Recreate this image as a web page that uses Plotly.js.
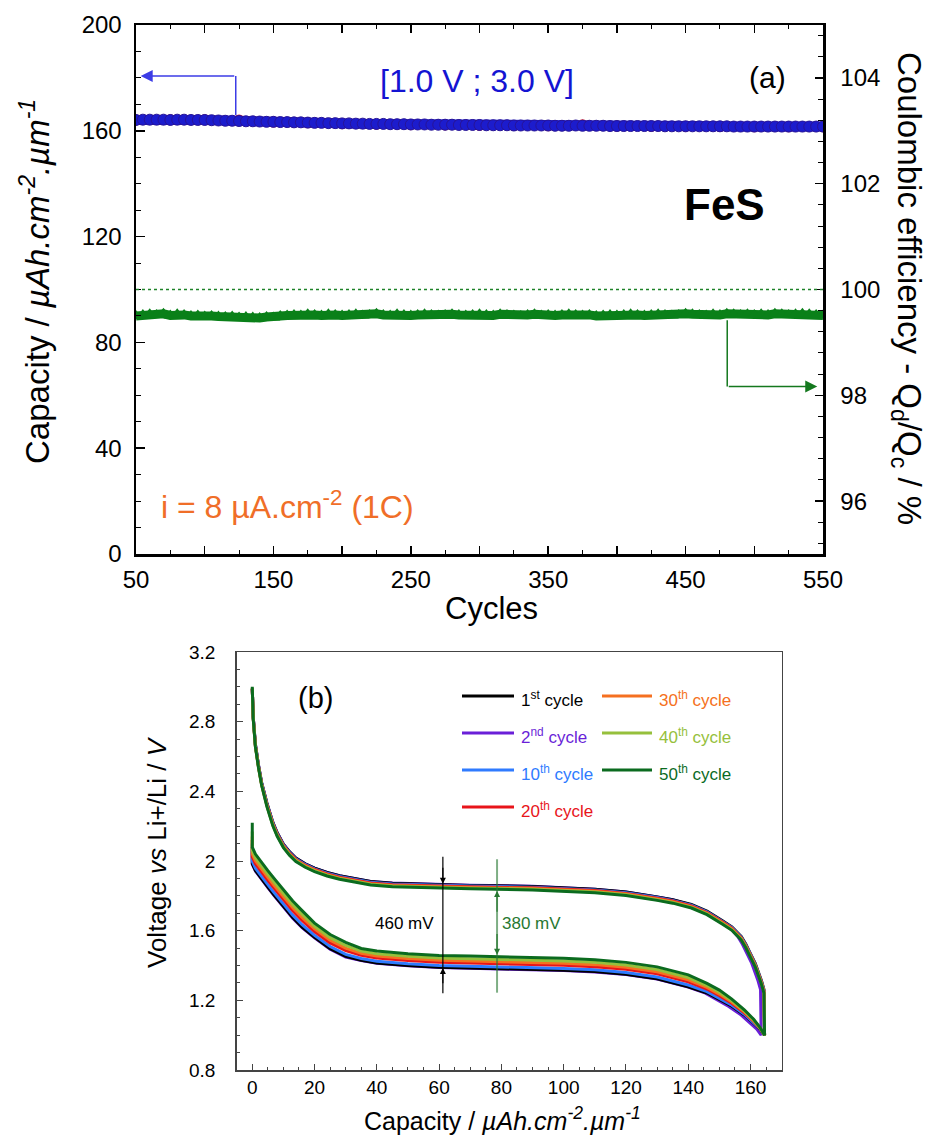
<!DOCTYPE html>
<html><head><meta charset="utf-8">
<script src="https://cdn.plot.ly/plotly-3.0.1.min.js"></script>
<style>html,body{margin:0;padding:0;background:#fff;} #chart{width:929px;height:1138px;}</style>
</head><body><div id="chart"></div>
<script>
// ================= Panel (a): cycling data =================
const cycleNo = [50,55,60,65,70,75,80,85,90,95,100,105,110,115,120,125,130,135,140,145,150,155,160,165,170,175,180,185,190,195,200,205,210,215,220,225,230,235,240,245,250,255,260,265,270,275,280,285,290,295,300,305,310,315,320,325,330,335,340,345,350,355,360,365,370,375,380,385,390,395,400,405,410,415,420,425,430,435,440,445,450,455,460,465,470,475,480,485,490,495,500,505,510,515,520,525,530,535,540,545,550];
const capacityQd = [164.1,164.2,164.2,164.2,164.2,164.1,164.2,164.2,164.1,164.1,164.1,
 164.0,163.9,163.8,163.8,163.7,163.6,163.6,163.5,163.4,163.4,
 163.3,163.3,163.2,163.2,163.1,163.0,163.0,162.9,162.9,162.8,
 162.8,162.7,162.7,162.6,162.6,162.6,162.5,162.5,162.5,162.4,
 162.4,162.4,162.3,162.3,162.3,162.3,162.2,162.2,162.2,162.2,
 162.1,162.1,162.1,162.1,162.0,162.0,162.0,162.0,162.0,162.0,
 161.9,161.9,161.9,162.0,161.9,161.9,161.9,161.9,161.8,161.8,
 161.8,161.8,161.8,161.8,161.8,161.8,161.7,161.7,161.7,161.7,
 161.7,161.7,161.7,161.7,161.7,161.7,161.6,161.6,161.6,161.6,
 161.6,161.6,161.6,161.6,161.6,161.6,161.6,161.6,161.6,161.6];
const cycleNoQc = [50,75,100,125,150,175,200,225,250,275,300,325,350,375,400,425,450,475,500,525,550];
const capacityQc = [164.1,164.2,164.2,164.1,163.3,163.0,162.7,162.5,162.3,162.2,162.1,162.0,161.9,162.3,161.8,161.7,161.7,161.6,161.5,161.5,161.5];
const coulombicEff = [99.50,99.52,99.53,99.52,99.54,99.51,99.53,99.52,99.50,99.51,99.49,
 99.50,99.49,99.48,99.49,99.47,99.48,99.47,99.46,99.48,99.47,
 99.50,99.51,99.52,99.51,99.53,99.52,99.51,99.53,99.52,99.51,
 99.52,99.53,99.51,99.52,99.54,99.52,99.51,99.53,99.52,99.51,
 99.52,99.53,99.52,99.51,99.52,99.53,99.52,99.51,99.52,99.53,
 99.52,99.51,99.53,99.52,99.51,99.50,99.52,99.53,99.51,99.52,
 99.51,99.52,99.53,99.52,99.51,99.52,99.50,99.51,99.52,99.51,
 99.52,99.53,99.52,99.51,99.52,99.53,99.52,99.51,99.52,99.54,
 99.53,99.52,99.51,99.53,99.52,99.54,99.53,99.52,99.53,99.52,
 99.53,99.52,99.54,99.53,99.52,99.53,99.54,99.53,99.52,99.51];
const xTickVals_a = [50,100,150,200,250,300,350,400,450,500,550];
const xTickText_a = ['50','','150','','250','','350','','450','','550'];
const ceTickVals = [96,98,100,102,104];

// ================= Panel (b): voltage profiles =================
// discharge capacity points (lower branch) and charge points (upper branch, right to left)
const capDis = [0,0,1,3,5,7,10,13,16,20,25,30,35,40,50,60,70,80,90,100,110,120,130,140,146,150,154,158,161,163,164.5];
const capCha = [164.5,164.5,164.3,163.5,162.7,161.5,160,158.5,157,154,151,146,141,135,130,125,120,110,90,70,55,45,38,33,28,24,20,17,14,12,10,8,6.6,4.7,3,2,1,0.3,0];
const capDis2nd = [0,0,1,3,5,7,10,13,16,20,25,30,35,40,50,60,70,80,90,100,110,120,130,140,145.5,149.3,153,157,160,162,163.4];
const capCha2nd = [163.4,163.4,163.2,162.4,161.6,160.4,158.9,157.4,155.9,153,150,145.3,140.5,135,130,125,120,110,90,70,55,45,38,33,28,24,20,17,14,12,10,8,6.6,4.7,3,2,1,0.3,0];

const vDis1st  = [2.08,1.985,1.945,1.895,1.85,1.805,1.74,1.675,1.62,1.562,1.497,1.452,1.43,1.415,1.40,1.39,1.386,1.383,1.379,1.373,1.365,1.35,1.324,1.278,1.242,1.204,1.166,1.116,1.07,1.035,1.00];
const vDis2nd  = [2.06,1.982,1.942,1.892,1.847,1.802,1.737,1.672,1.617,1.559,1.494,1.449,1.428,1.413,1.398,1.388,1.384,1.381,1.377,1.371,1.363,1.348,1.322,1.276,1.241,1.203,1.165,1.115,1.07,1.035,1.00];
const vDis10th = [2.10,1.999,1.959,1.909,1.864,1.819,1.754,1.689,1.634,1.574,1.509,1.464,1.44,1.425,1.41,1.40,1.396,1.393,1.389,1.383,1.375,1.36,1.334,1.288,1.25,1.212,1.172,1.12,1.073,1.037,1.00];
const vDis20th = [2.12,2.024,1.984,1.934,1.889,1.844,1.779,1.714,1.659,1.595,1.53,1.485,1.458,1.443,1.428,1.418,1.414,1.411,1.407,1.401,1.393,1.378,1.352,1.306,1.265,1.227,1.183,1.128,1.079,1.04,1.00];
const vDis30th = [2.14,2.041,2.001,1.951,1.906,1.861,1.796,1.731,1.676,1.61,1.545,1.50,1.47,1.455,1.44,1.43,1.426,1.423,1.419,1.413,1.405,1.39,1.364,1.318,1.274,1.236,1.19,1.134,1.082,1.041,1.00];
const vDis40th = [2.17,2.059,2.019,1.969,1.924,1.879,1.814,1.749,1.694,1.625,1.56,1.515,1.483,1.468,1.453,1.443,1.439,1.436,1.432,1.426,1.418,1.403,1.377,1.331,1.285,1.247,1.198,1.139,1.086,1.043,1.00];
const vDis50th = [2.22,2.08,2.04,1.99,1.945,1.90,1.835,1.77,1.715,1.643,1.578,1.533,1.498,1.483,1.468,1.458,1.454,1.451,1.447,1.441,1.433,1.418,1.392,1.346,1.297,1.259,1.207,1.146,1.091,1.045,1.00];

const vCha1st  = [1.00,1.23,1.262,1.312,1.352,1.412,1.467,1.522,1.567,1.622,1.657,1.712,1.75,1.778,1.794,1.809,1.822,1.838,1.854,1.86,1.865,1.872,1.882,1.897,1.915,1.934,1.959,1.984,2.017,2.052,2.097,2.162,2.222,2.332,2.45,2.55,2.67,2.83,2.99];
const vCha2nd  = [1.00,1.20,1.262,1.312,1.352,1.412,1.467,1.522,1.567,1.622,1.657,1.712,1.75,1.778,1.794,1.809,1.822,1.838,1.855,1.861,1.866,1.873,1.883,1.897,1.915,1.934,1.959,1.984,2.017,2.052,2.097,2.162,2.222,2.332,2.45,2.55,2.67,2.83,2.99];
const vCha10th = [1.00,1.22,1.258,1.308,1.348,1.408,1.463,1.518,1.563,1.618,1.653,1.708,1.746,1.774,1.79,1.805,1.818,1.834,1.85,1.856,1.861,1.868,1.878,1.893,1.911,1.93,1.955,1.98,2.013,2.048,2.093,2.158,2.218,2.328,2.445,2.545,2.665,2.825,2.99];
const vCha20th = [1.00,1.22,1.254,1.304,1.344,1.404,1.459,1.514,1.559,1.614,1.649,1.704,1.742,1.77,1.786,1.801,1.814,1.83,1.846,1.852,1.857,1.864,1.874,1.889,1.907,1.926,1.951,1.976,2.009,2.044,2.089,2.154,2.214,2.324,2.442,2.542,2.662,2.822,2.99];
const vCha30th = [1.00,1.22,1.25,1.30,1.34,1.40,1.455,1.51,1.555,1.61,1.645,1.70,1.738,1.766,1.782,1.797,1.81,1.826,1.842,1.848,1.853,1.86,1.87,1.885,1.903,1.922,1.947,1.972,2.005,2.04,2.085,2.15,2.21,2.32,2.44,2.54,2.66,2.82,2.99];
const vCha40th = [1.00,1.23,1.246,1.296,1.336,1.396,1.451,1.506,1.551,1.606,1.641,1.696,1.734,1.762,1.778,1.793,1.806,1.822,1.838,1.844,1.849,1.856,1.866,1.881,1.899,1.918,1.943,1.968,2.001,2.036,2.081,2.146,2.206,2.316,2.438,2.538,2.658,2.818,2.995];
const vCha50th = [1.00,1.24,1.242,1.292,1.332,1.392,1.447,1.502,1.547,1.602,1.637,1.692,1.73,1.758,1.774,1.789,1.802,1.818,1.834,1.84,1.845,1.852,1.862,1.877,1.895,1.914,1.939,1.964,1.997,2.032,2.077,2.142,2.202,2.312,2.435,2.535,2.655,2.815,3.0];

const cycleLabels = ['1<sup>st</sup> cycle','2<sup>nd</sup> cycle','10<sup>th</sup> cycle','20<sup>th</sup> cycle','30<sup>th</sup> cycle','40<sup>th</sup> cycle','50<sup>th</sup> cycle'];
const cycleColors = ['#000000','#6a1fd8','#2f7bff','#e8141a','#f57020','#96c03c','#0b6b1f'];

// ================= helpers (layout only) =================
const W = 929, H = 1138;
const px = v => v / W;
const py = v => 1 - v / H;
const FONT = 'Liberation Sans, Arial, sans-serif';

const BLUE = 'rgb(28,28,205)';
const GREEN = 'rgb(10,128,25)';

const traces = [];
// Panel (a)
traces.push({x: cycleNo, y: coulombicEff, xaxis:'x', yaxis:'y2', mode:'lines+markers',
  line:{color:GREEN, width:9}, marker:{symbol:'triangle-up', size:12, color:GREEN}, showlegend:false});
traces.push({x: cycleNoQc, y: capacityQc, xaxis:'x', yaxis:'y', mode:'markers',
  marker:{symbol:'circle', size:11, color:'rgb(200,30,50)'}, showlegend:false});
traces.push({x: cycleNo, y: capacityQd, xaxis:'x', yaxis:'y', mode:'lines+markers',
  line:{color:BLUE, width:10}, marker:{symbol:'circle', size:11, color:BLUE, line:{color:'rgb(40,20,150)', width:1}}, showlegend:false});

// Panel (b)
const dis = [vDis1st, vDis2nd, vDis10th, vDis20th, vDis30th, vDis40th, vDis50th];
const cha = [vCha1st, vCha2nd, vCha10th, vCha20th, vCha30th, vCha40th, vCha50th];
const xd = [capDis, capDis2nd, capDis, capDis, capDis, capDis, capDis];
const xc = [capCha, capCha2nd, capCha, capCha, capCha, capCha, capCha];
const order = [1,0,2,3,4,5,6];
order.forEach(i => {
  traces.push({x: xd[i].concat(xc[i]), y: dis[i].concat(cha[i]), xaxis:'x2', yaxis:'y3', mode:'lines',
    line:{color: cycleColors[i], width: 3}, showlegend:false});
});

const annotations = [];
const shapes = [];
// Panel (a) texts
annotations.push({text:'[1.0 V ; 3.0 V]', x:px(477.5), y:py(81), xref:'paper', yref:'paper', showarrow:false,
  font:{family:FONT, size:32, color:'rgb(20,20,210)'}, xanchor:'center', yanchor:'middle'});
annotations.push({text:'(a)', x:px(767), y:py(77), xref:'paper', yref:'paper', showarrow:false,
  font:{family:FONT, size:30, color:'#000'}, xanchor:'center', yanchor:'middle'});
annotations.push({text:'<b>FeS</b>', x:px(724), y:py(205), xref:'paper', yref:'paper', showarrow:false,
  font:{family:FONT, size:44, color:'#000'}, xanchor:'center', yanchor:'middle'});
annotations.push({text:'i = 8 µA.cm<sup>-2</sup> (1C)', x:px(287), y:py(505), xref:'paper', yref:'paper', showarrow:false,
  font:{family:FONT, size:32, color:'rgb(240,110,40)'}, xanchor:'center', yanchor:'middle'});
// axis titles (a)
annotations.push({text:'Capacity / <i>µAh.cm<sup>-2</sup>.µm<sup>-1</sup></i>', x:px(35), y:py(282), xref:'paper', yref:'paper',
  showarrow:false, textangle:-90, font:{family:FONT, size:33, color:'#000'}, xanchor:'center', yanchor:'middle'});
annotations.push({text:'Coulombic efficiency - Q<sub>d</sub>/Q<sub>c</sub> / %', x:px(907), y:py(288), xref:'paper', yref:'paper',
  showarrow:false, textangle:90, font:{family:FONT, size:33, color:'#000'}, xanchor:'center', yanchor:'middle'});
annotations.push({text:'Cycles', x:px(491), y:py(608), xref:'paper', yref:'paper', showarrow:false,
  font:{family:FONT, size:31, color:'#000'}, xanchor:'center', yanchor:'middle'});
// pointer arrows (a)
shapes.push({type:'line', xref:'x', yref:'y', x0:122.6, x1:122.6, y0:166, y1:180.7, line:{color:'rgb(60,60,230)', width:1.5}});
annotations.push({text:'', x:53.4, y:180.7, ax:122.6, ay:180.7, xref:'x', yref:'y', axref:'x', ayref:'y',
  showarrow:true, arrowhead:2, arrowsize:1.6, arrowwidth:1.5, arrowcolor:'rgb(60,60,230)'});
shapes.push({type:'line', xref:'x', yref:'y2', x0:480.3, x1:480.3, y0:99.42, y1:98.165, line:{color:'rgb(20,120,30)', width:1.5}});
annotations.push({text:'', x:545.8, y:98.165, ax:480.3, ay:98.165, xref:'x', yref:'y2', axref:'x', ayref:'y2',
  showarrow:true, arrowhead:2, arrowsize:1.6, arrowwidth:1.5, arrowcolor:'rgb(20,120,30)'});
shapes.push({type:'line', xref:'x', yref:'y2', x0:50, x1:550, y0:100, y1:100, line:{color:'rgb(30,130,40)', width:1.5, dash:'dot'}});

// Panel (b) texts
annotations.push({text:'(b)', x:px(315), y:py(698), xref:'paper', yref:'paper', showarrow:false,
  font:{family:FONT, size:29, color:'#000'}, xanchor:'center', yanchor:'middle'});
annotations.push({text:'Voltage <i>vs</i> Li+/Li / <i>V</i>', x:px(157), y:py(852), xref:'paper', yref:'paper',
  showarrow:false, textangle:-90, font:{family:FONT, size:26, color:'#000'}, xanchor:'center', yanchor:'middle'});
annotations.push({text:'Capacity / <i>µAh.cm<sup>-2</sup>.µm<sup>-1</sup></i>', x:px(502), y:py(1119), xref:'paper', yref:'paper',
  showarrow:false, font:{family:FONT, size:25, color:'#000'}, xanchor:'center', yanchor:'middle'});
// legend (b), two columns
const legCol = [[0,1,2,3],[4,5,6]];
const legRowsY = [696, 733, 770, 807];
const legColX = [[462,514,519],[602,652,657]];
legCol.forEach((items, c) => {
  items.forEach((idx, r) => {
    shapes.push({type:'line', xref:'paper', yref:'paper', x0:px(legColX[c][0]), x1:px(legColX[c][1]),
      y0:py(legRowsY[r]), y1:py(legRowsY[r]), line:{color:cycleColors[idx], width:3}});
    annotations.push({text:cycleLabels[idx], x:px(legColX[c][2]), y:py(legRowsY[r]+3), xref:'paper', yref:'paper',
      showarrow:false, xanchor:'left', yanchor:'middle', font:{family:FONT, size:17, color:cycleColors[idx]}});
  });
});
// overpotential markers
shapes.push({type:'line', xref:'x2', yref:'y3', x0:61.2, x1:61.2, y0:1.24, y1:2.025, line:{color:'#000', width:1.2}});
annotations.push({text:'', x:61.2, y:1.87, ax:61.2, ay:1.97, xref:'x2', yref:'y3', axref:'x2', ayref:'y3',
  showarrow:true, arrowhead:2, arrowsize:1, arrowwidth:1.2, arrowcolor:'#000'});
annotations.push({text:'', x:61.2, y:1.385, ax:61.2, ay:1.29, xref:'x2', yref:'y3', axref:'x2', ayref:'y3',
  showarrow:true, arrowhead:2, arrowsize:1, arrowwidth:1.2, arrowcolor:'#000'});
shapes.push({type:'line', xref:'x2', yref:'y3', x0:78.6, x1:78.6, y0:1.244, y1:2.01, line:{color:'rgba(40,120,50,0.6)', width:2}});
annotations.push({text:'', x:78.6, y:1.828, ax:78.6, ay:1.70, xref:'x2', yref:'y3', axref:'x2', ayref:'y3',
  showarrow:true, arrowhead:2, arrowsize:1, arrowwidth:1.2, arrowcolor:'rgb(40,120,50)'});
annotations.push({text:'', x:78.6, y:1.462, ax:78.6, ay:1.59, xref:'x2', yref:'y3', axref:'x2', ayref:'y3',
  showarrow:true, arrowhead:2, arrowsize:1, arrowwidth:1.2, arrowcolor:'rgb(40,120,50)'});
annotations.push({text:'460 mV', x:px(436), y:py(923), xref:'paper', yref:'paper', showarrow:false,
  xanchor:'right', yanchor:'middle', font:{family:FONT, size:17, color:'#000'}});
annotations.push({text:'380 mV', x:px(500), y:py(923), xref:'paper', yref:'paper', showarrow:false,
  xanchor:'left', yanchor:'middle', font:{family:FONT, size:17, color:'rgb(40,120,50)'}});

const layout = {
  width: W, height: H,
  margin:{l:0, r:0, t:0, b:0},
  paper_bgcolor:'#fff', plot_bgcolor:'rgba(0,0,0,0)',
  font:{family:FONT, color:'#000'},
  showlegend:false,
  xaxis:{domain:[px(136), px(823)], range:[50,550], anchor:'y',
    tickmode:'array', tickvals:xTickVals_a, ticktext:xTickText_a,
    ticks:'inside', ticklen:8, tickwidth:1.5, tickcolor:'#000', mirror:'ticks',
    showline:true, linewidth:2.5, linecolor:'#000', showgrid:false, zeroline:false,
    tickfont:{family:FONT, size:24, color:'#000'}, ticklabelstandoff:3,
    minor:{tick0:50, dtick:25, ticks:'inside', ticklen:4, tickwidth:1, tickcolor:'#000', showgrid:false}},
  yaxis:{domain:[py(554), py(25)], range:[0,200], anchor:'x', tick0:0, dtick:40,
    ticks:'inside', ticklen:9, tickwidth:1.5, tickcolor:'#000',
    showline:true, linewidth:2.5, linecolor:'#000', showgrid:false, zeroline:false,
    tickfont:{family:FONT, size:24, color:'#000'}, ticklabelstandoff:7,
    minor:{tick0:0, dtick:10, ticks:'inside', ticklen:5, tickwidth:1, tickcolor:'#000', showgrid:false}},
  yaxis2:{overlaying:'y', side:'right', anchor:'x', range:[95,105], tickmode:'array', tickvals:ceTickVals,
    ticks:'inside', ticklen:8, tickwidth:1.5, tickcolor:'#000',
    showline:true, linewidth:2.5, linecolor:'#000', showgrid:false, zeroline:false,
    tickfont:{family:FONT, size:24, color:'#000'}, ticklabelstandoff:10,
    minor:{tick0:96, dtick:0.4, ticks:'inside', ticklen:5, tickwidth:1, tickcolor:'#000', showgrid:false}},
  xaxis2:{domain:[px(236.7), px(781.7)], range:[-5,170], anchor:'y3', tick0:0, dtick:20,
    ticks:'inside', ticklen:6, tickwidth:1, tickcolor:'#444', mirror:true,
    showline:true, linewidth:1.5, linecolor:'#444', showgrid:false, zeroline:false,
    tickfont:{family:FONT, size:19, color:'#000'}, ticklabelstandoff:0,
    minor:{tick0:0, dtick:5, ticks:'inside', ticklen:3, tickwidth:1, tickcolor:'#444', showgrid:false}},
  yaxis3:{domain:[py(1070), py(652)], range:[0.8,3.2], anchor:'x2', tick0:0.8, dtick:0.4,
    ticks:'inside', ticklen:6, tickwidth:1, tickcolor:'#444', mirror:true,
    showline:true, linewidth:1.5, linecolor:'#444', showgrid:false, zeroline:false,
    tickfont:{family:FONT, size:19, color:'#000'}, ticklabelstandoff:16,
    minor:{tick0:0.8, dtick:0.1, ticks:'inside', ticklen:3, tickwidth:1, tickcolor:'#444', showgrid:false}},
  annotations: annotations,
  shapes: shapes
};

Plotly.newPlot('chart', traces, layout, {displayModeBar:false, staticPlot:true});
</script></body></html>
